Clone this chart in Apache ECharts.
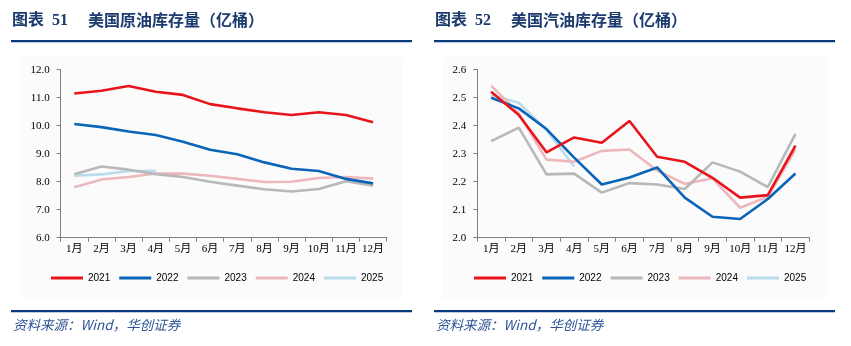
<!DOCTYPE html>
<html><head><meta charset="utf-8">
<script src="https://cdn.jsdelivr.net/npm/echarts@6/dist/echarts.min.js"></script>
<style>html,body{margin:0;padding:0;background:#fff}#c{width:851px;height:346px}</style>
</head><body><div id="c"></div>
<script>
const months = ['1月','2月','3月','4月','5月','6月','7月','8月','9月','10月','11月','12月'];
const years = ['2021','2022','2023','2024','2025'];
const colors = ['#e8141c','#0a64b8','#b8b8b8','#ecb8bc','#b8dcea'];

// 美国原油库存量（亿桶）
const crude2021 = [11.15,11.25,11.42,11.21,11.10,10.77,10.62,10.48,10.38,10.48,10.38,10.12];
const crude2022 = [10.06,9.95,9.79,9.67,9.43,9.14,8.98,8.69,8.46,8.38,8.10,7.94];
const crude2023 = [8.27,8.54,8.43,8.27,8.17,8.00,7.86,7.73,7.65,7.74,8.02,7.86];
const crude2024 = [7.80,8.08,8.17,8.29,8.29,8.21,8.10,7.99,8.00,8.13,8.17,8.11];
const crude2025 = [8.21,8.26,8.38,8.39];

// 美国汽油库存量（亿桶）
const gas2021 = [2.521,2.438,2.305,2.358,2.339,2.417,2.289,2.271,2.214,2.143,2.152,2.329];
const gas2022 = [2.500,2.462,2.388,2.286,2.190,2.215,2.251,2.143,2.075,2.067,2.138,2.229];
const gas2023 = [2.345,2.393,2.226,2.229,2.161,2.195,2.190,2.174,2.269,2.236,2.181,2.371];
const gas2024 = [2.543,2.444,2.279,2.271,2.310,2.315,2.240,2.192,2.212,2.107,2.146,2.315];
const gas2025 = [2.510,2.482,2.385,2.254];

const crudeTicks = {min:6, max:12, interval:1};
const gasTicks = {min:2.0, max:2.6, interval:0.1};

const crudeData = [crude2021,crude2022,crude2023,crude2024,crude2025];
const gasData = [gas2021,gas2022,gas2023,gas2024,gas2025];

const chart = echarts.init(document.getElementById('c'), null, {renderer:'canvas'});
const serif = '"Liberation Serif","Times New Roman","Noto Sans CJK SC",serif';
const axisColor = '#7f7f7f';

function xAxis(idx){
  return {type:'category', gridIndex:idx, data:months, boundaryGap:true,
    axisLine:{lineStyle:{color:axisColor,width:1}},
    axisTick:{show:true,length:4,lineStyle:{color:axisColor}},
    axisLabel:{color:'#000',fontFamily:serif,fontSize:11,margin:6,interval:0},
    splitLine:{show:false}};
}
function yAxis(idx, t){
  return {type:'value', gridIndex:idx, min:t.min, max:t.max, interval:t.interval,
    axisLine:{show:true,lineStyle:{color:axisColor,width:1}},
    axisTick:{show:true,length:4,lineStyle:{color:axisColor}},
    axisLabel:{color:'#000',fontFamily:serif,fontSize:11,margin:11,
      formatter:v=>v.toFixed(1)},
    splitLine:{show:false}};
}
const series = [];
years.forEach((y,i)=>{
  series.push({name:y,type:'line',xAxisIndex:0,yAxisIndex:0,data:crudeData[i],
    symbol:'none',smooth:false,lineStyle:{width:2.6,color:colors[i]},itemStyle:{color:colors[i]},z:10-i});
  series.push({name:y,type:'line',xAxisIndex:1,yAxisIndex:1,data:gasData[i],
    symbol:'none',smooth:false,lineStyle:{width:2.6,color:colors[i]},itemStyle:{color:colors[i]},z:10-i});
});
const titleColor = '#1b3a6e';
const lineColor = '#083b7c';
const cjk = '"Noto Sans CJK SC",sans-serif';
function legend(left){
  return {data:years.map((y,i)=>({name:y,icon:'rect',itemStyle:{color:colors[i]}})),
    left:left, top:273, padding:0, itemWidth:32, itemHeight:3, itemGap:9, orient:'horizontal',
    textStyle:{color:'#000',fontSize:10,fontFamily:'"Liberation Sans",Arial,sans-serif'},
    selectedMode:false};
}
chart.setOption({
  animation:false,
  backgroundColor:'#ffffff',
  color:colors,
  grid:[
    {left:60.7, right:464.3, top:69.7, height:168, containLabel:false},
    {left:477.3, right:41.7, top:69.7, height:168, containLabel:false}
  ],
  xAxis:[xAxis(0), xAxis(1)],
  yAxis:[yAxis(0,crudeTicks), yAxis(1,gasTicks)],
  legend:[legend(51), legend(474)],
  series:series,
  graphic:[
    {type:'rect',z:-10,silent:true,shape:{x:20,y:57,width:383,height:241},style:{fill:'#fbfbfb'}},
    {type:'rect',z:-10,silent:true,shape:{x:443,y:57,width:385,height:241},style:{fill:'#fbfbfb'}},
    {type:'text',left:12,top:13,style:{text:'图表  51',fill:titleColor,font:'bold 16px "Liberation Serif","Noto Sans CJK SC",serif'}},
    {type:'text',left:88,top:12,style:{text:'美国原油库存量（亿桶）',fill:titleColor,font:'bold 16px '+cjk}},
    {type:'text',left:435,top:13,style:{text:'图表  52',fill:titleColor,font:'bold 16px "Liberation Serif","Noto Sans CJK SC",serif'}},
    {type:'text',left:511,top:12,style:{text:'美国汽油库存量（亿桶）',fill:titleColor,font:'bold 16px '+cjk}},
    {type:'rect',shape:{x:11,y:40,width:401,height:2.2},style:{fill:lineColor}},
    {type:'rect',shape:{x:434,y:40,width:401,height:2.2},style:{fill:lineColor}},
    {type:'rect',shape:{x:11,y:310,width:401,height:2.2},style:{fill:lineColor}},
    {type:'rect',shape:{x:434,y:310,width:401,height:2.2},style:{fill:lineColor}},
    {type:'text',left:13,top:318,style:{text:'资料来源：Wind，华创证券',fill:'#2f5597',font:'italic 13.5px '+cjk}},
    {type:'text',left:436,top:318,style:{text:'资料来源：Wind，华创证券',fill:'#2f5597',font:'italic 13.5px '+cjk}}
  ]
});
</script></body></html>
